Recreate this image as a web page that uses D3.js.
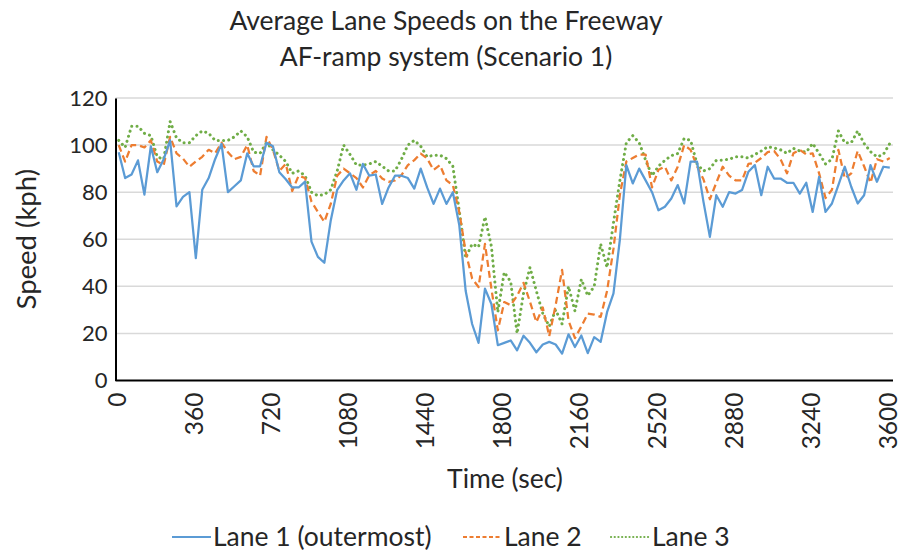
<!DOCTYPE html>
<html>
<head>
<meta charset="utf-8">
<script src="https://cdn.jsdelivr.net/npm/d3@7"></script>
<style>
  body { margin: 0; background: #fff; }
  svg text { font-family: Lato, "Open Sans", sans-serif; fill: #262626; }
</style>
</head>
<body>
<div id="chart"></div>
<script>
// speeds (kph) every 30 s, 0..3600
const lane1 = [
  97, 86, 87.5, 93.5, 79, 99.5, 88.5, 94, 102, 74,
  78, 80, 52, 81, 86, 94, 100.5, 80, 82.5, 85,
  96.5, 91, 91, 101, 99.5, 88.5, 85.5, 82, 82, 84.5,
  59, 52.5, 50, 68, 81, 85, 88, 81, 92, 87,
  87.5, 75, 82, 87, 87, 86, 81.5, 90, 82, 75,
  81.5, 75, 80, 66, 38, 24, 16, 39, 32.5, 15,
  16, 17, 12.8, 19, 16, 12, 15.3, 16.4, 15.3, 11.4,
  19.6, 14.2, 19.1, 11.6, 18.4, 16.4, 29, 37, 60, 91.5,
  83.7, 90, 85, 80, 72.3, 73.8, 77.3, 83, 75.2, 93,
  93, 76, 61, 78.7, 73.8, 80, 79.4, 80.9, 88.7, 91.5,
  78.7, 90.8, 85.8, 85.8, 84, 84, 79.4, 84, 71.6, 86.5,
  71.6, 75.2, 83, 90.8, 82.3, 75.2, 78.7, 91.5, 84.4, 90.8,
  90.4
];
const lane2 = [
  100, 93, 100, 100, 99, 102, 93, 91.5, 103.5, 96.5,
  94.3, 90.8, 93, 95, 98, 96.5, 101, 97, 94, 95,
  100, 89, 87, 103.5, 98, 89, 92, 80.5, 87, 86,
  76, 71.6, 67.4, 75, 87, 90, 88, 86, 82, 87.2,
  89, 85.8, 84.4, 85, 87.2, 91.5, 93.6, 96.4, 94.3, 89.4,
  91.5, 85, 83, 71.6, 54.6, 43.3, 39.7, 58, 39, 21.3,
  33.3, 32, 36, 41.5, 33.5, 24.8, 31, 18.8, 32, 47,
  25.5, 18, 23, 28.4, 28, 27, 38, 56, 79, 93,
  94.5, 96, 96, 82, 89.5, 90.8, 85, 90.8, 100, 98,
  91, 85.5, 77, 84, 90.8, 87, 85, 85, 92, 92.5,
  94.5, 97, 97.5, 94, 88, 96.5, 98, 96, 96.5, 88,
  77.5, 81, 98, 85.8, 88, 97.5, 91, 84, 94, 93,
  94.5
];
const lane3 = [
  102, 99, 108, 108, 105, 104, 95, 94, 110, 103,
  101, 101, 104, 106, 105, 102, 102, 102, 103.5, 106,
  103.5, 97, 96.5, 101, 98, 95.7, 93, 88, 89, 87,
  80, 78.5, 79, 81, 89, 100, 96, 91.5, 91.5, 92,
  93, 91, 89, 89, 94, 100, 102, 99.5, 95, 95.7,
  95.7, 94.3, 91, 72, 52, 58, 56.7, 69.5, 57, 29,
  46, 42, 20, 37, 48, 38, 28.4, 23, 30, 24,
  40, 29.5, 43, 36, 40, 58, 48, 67, 85, 101,
  104, 101, 93.6, 87, 91, 93.5, 95.5, 96.4, 102.8, 102,
  92, 89, 90, 93.5, 93.6, 94, 95, 95, 94.5, 96,
  97.5, 99.3, 98.8, 98, 96.5, 98.6, 97.5, 97, 100.7, 96.5,
  92, 94, 106, 101, 101, 106, 100.7, 97.2, 95, 96,
  100.7
];
const timeTicks = [0, 360, 720, 1080, 1440, 1800, 2160, 2520, 2880, 3240, 3600];
const speedTicks = [0, 20, 40, 60, 80, 100, 120];
const laneNames = ["Lane 1 (outermost)", "Lane 2", "Lane 3"];
const titleLines = ["Average Lane Speeds on the Freeway", "AF-ramp system (Scenario 1)"];

const width = 901, height = 552;
const margin = { top: 98, right: 8, bottom: 172, left: 115.5 };

const svg = d3.select("#chart")
  .append("svg")
  .attr("width", width)
  .attr("height", height);

const times = lane1.map((d, i) => i * 30);

const x = d3.scalePoint()
  .domain(times)
  .range([margin.left, width - margin.right])
  .padding(0.5);

const y = d3.scaleLinear()
  .domain([0, 120])
  .range([height - margin.bottom + 0.5, margin.top]);

// gridlines
svg.append("g")
  .selectAll("line")
  .data(speedTicks.slice(1))
  .join("line")
  .attr("x1", margin.left)
  .attr("x2", width - margin.right)
  .attr("y1", d => y(d))
  .attr("y2", d => y(d))
  .attr("stroke", "#d9d9d9")
  .attr("stroke-width", 1.5);

// y axis
const yAxis = svg.append("g")
  .attr("transform", `translate(${margin.left},0)`)
  .call(d3.axisLeft(y).tickValues(speedTicks).tickSize(0).tickPadding(8));
yAxis.select(".domain").attr("stroke", "#000").attr("stroke-width", 2);
yAxis.selectAll("text").attr("font-size", 22).attr("fill", "#262626");

// x axis, labels turned upright like the original
const xAxis = svg.append("g")
  .attr("transform", `translate(0,${y(0)})`)
  .call(d3.axisBottom(x).tickValues(timeTicks).tickSize(0).tickSizeOuter(0));
xAxis.select(".domain")
  .attr("d", `M${margin.left},0H${width - margin.right}`)
  .attr("stroke", "#000").attr("stroke-width", 2);
xAxis.selectAll("text")
  .attr("font-size", 24.5)
  .attr("fill", "#262626")
  .attr("text-anchor", "end")
  .attr("transform", "rotate(-90)")
  .attr("x", -12)
  .attr("y", -2)
  .attr("dy", "0.35em");

const series = [
  { name: laneNames[0], values: lane1, color: "#5b9bd5", dash: null, cap: "butt" },
  { name: laneNames[1], values: lane2, color: "#ed7d31", dash: "7,4", cap: "butt" },
  { name: laneNames[2], values: lane3, color: "#70ad47", dash: "0.1,5.2", cap: "round" }
];

const line = d3.line()
  .x((d, i) => x(times[i]))
  .y(d => y(d));

svg.append("g")
  .selectAll("path")
  .data(series.slice().reverse())
  .join("path")
  .attr("d", d => line(d.values))
  .attr("fill", "none")
  .attr("stroke", d => d.color)
  .attr("stroke-width", d => d.cap === "round" ? 3 : 2.25)
  .attr("stroke-dasharray", d => d.dash)
  .attr("stroke-linecap", d => d.cap)
  .attr("stroke-linejoin", "round");

// titles
svg.append("g")
  .selectAll("text")
  .data(titleLines)
  .join("text")
  .attr("x", 446)
  .attr("y", (d, i) => 30 + i * 36)
  .attr("text-anchor", "middle")
  .attr("font-size", 26.5)
  .text(d => d);

svg.append("text")
  .attr("transform", `translate(36,${(y(0) + y(120)) / 2}) rotate(-90)`)
  .attr("text-anchor", "middle")
  .attr("font-size", 27.5)
  .text("Speed (kph)");

svg.append("text")
  .attr("x", 505)
  .attr("y", 488)
  .attr("text-anchor", "middle")
  .attr("font-size", 26.5)
  .text("Time (sec)");

// legend
const legendX = [172, 463, 611];
const legend = svg.append("g")
  .selectAll("g")
  .data(series)
  .join("g")
  .attr("transform", (d, i) => `translate(${legendX[i]},537)`);
legend.append("line")
  .attr("x1", 0).attr("x2", 39)
  .attr("stroke", d => d.color)
  .attr("stroke-width", d => d.cap === "round" ? 2.2 : 1.8)
  .attr("stroke-dasharray", d => d.cap === "round" ? "0.1,3.6" : (d.dash ? "4,2.5" : null))
  .attr("stroke-linecap", d => d.cap);
legend.append("text")
  .attr("x", 41)
  .attr("dy", "0.35em")
  .attr("font-size", 26.5)
  .text(d => d.name);
</script>
</body>
</html>
